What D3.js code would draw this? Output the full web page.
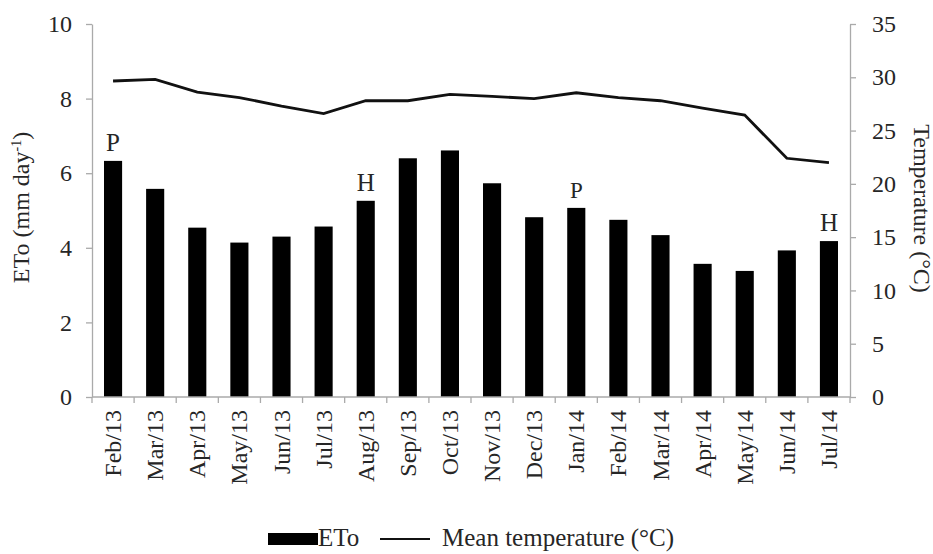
<!DOCTYPE html>
<html>
<head>
<meta charset="utf-8">
<script src="https://cdn.jsdelivr.net/npm/d3@7"></script>
<style>
  body { margin: 0; background: #fff; }
  svg { display: block; }
  text { font-family: "Liberation Serif", "Times New Roman", serif; fill: #262626; }
</style>
</head>
<body>
<svg id="chart" width="933" height="554"></svg>
<script>
const months = ["Feb/13", "Mar/13", "Apr/13", "May/13", "Jun/13", "Jul/13", "Aug/13", "Sep/13", "Oct/13",
  "Nov/13", "Dec/13", "Jan/14", "Feb/14", "Mar/14", "Apr/14", "May/14", "Jun/14", "Jul/14"];
const eto = [6.33, 5.58, 4.54, 4.14, 4.30, 4.57, 5.26, 6.40, 6.61, 5.73, 4.82, 5.07, 4.75, 4.34, 3.57, 3.38, 3.93, 4.18];
const temp = [29.65, 29.8, 28.6, 28.1, 27.3, 26.6, 27.8, 27.8, 28.4, 28.2, 28.0, 28.55, 28.1, 27.8, 27.1, 26.45, 22.4, 22.0];
// P = planting, H = harvest markers
const marks = [
  { month: "Feb/13", text: "P", size: 25 },
  { month: "Aug/13", text: "H", size: 25 },
  { month: "Jan/14", text: "P", size: 23 },
  { month: "Jul/14", text: "H", size: 25 }
];
const leftTicks = [0, 2, 4, 6, 8, 10];
const rightTicks = [0, 5, 10, 15, 20, 25, 30, 35];

const svg = d3.select('#chart');
const margin = { top: 24, right: 83, bottom: 157, left: 92 };
const width = +svg.attr('width');
const height = +svg.attr('height');
const innerWidth = width - margin.left - margin.right;
const innerHeight = height - margin.top - margin.bottom;

const g = svg.append('g')
  .attr('transform', `translate(${margin.left},${margin.top})`);

const x = d3.scaleBand()
  .domain(months)
  .range([0, innerWidth])
  .paddingInner(0.57)
  .paddingOuter(0.285);

const xBand = d3.scaleBand().domain(months).range([0, innerWidth]);

const yLeft = d3.scaleLinear().domain([0, 10]).range([innerHeight, 0]);
const yRight = d3.scaleLinear().domain([0, 35]).range([innerHeight, 0]);

// bars
g.append('g')
  .selectAll('rect')
  .data(eto)
  .join('rect')
  .attr('x', (d, i) => x(months[i]))
  .attr('y', d => yLeft(d))
  .attr('width', x.bandwidth())
  .attr('height', d => yLeft(0) - yLeft(d))
  .attr('fill', '#000');

// temperature line
const line = d3.line()
  .x((d, i) => xBand(months[i]) + xBand.bandwidth() / 2)
  .y(d => yRight(d));

g.append('path')
  .datum(temp)
  .attr('d', line)
  .attr('fill', 'none')
  .attr('stroke', '#111')
  .attr('stroke-width', 2.8);

// P / H labels
g.append('g')
  .selectAll('text')
  .data(marks)
  .join('text')
  .attr('x', d => xBand(d.month) + xBand.bandwidth() / 2)
  .attr('y', d => yLeft(eto[months.indexOf(d.month)]) - 10)
  .attr('text-anchor', 'middle')
  .style('font-size', d => d.size + 'px')
  .text(d => d.text);

function styleAxis(sel) {
  sel.attr('font-family', null).attr('font-size', null);
  sel.select('.domain').attr('stroke', '#aaa').attr('stroke-width', 1.3);
  sel.selectAll('.tick line').attr('stroke', '#aaa').attr('stroke-width', 1.3);
  sel.selectAll('text').attr('fill', null).style('font-size', '24px');
}

// left axis
g.append('g')
  .call(d3.axisLeft(yLeft).tickValues(leftTicks).tickSize(6).tickSizeOuter(0).tickPadding(14))
  .call(styleAxis);

// right axis
g.append('g')
  .attr('transform', `translate(${innerWidth},0)`)
  .call(d3.axisRight(yRight).tickValues(rightTicks).tickSize(6).tickSizeOuter(0).tickPadding(16))
  .call(styleAxis);

// bottom axis, ticks at band boundaries
const bottom = g.append('g')
  .attr('transform', `translate(0,${innerHeight})`);
bottom.append('line')
  .attr('x1', 0).attr('x2', innerWidth)
  .attr('stroke', '#aaa').attr('stroke-width', 1.3);
bottom.selectAll('.bt')
  .data(months.concat(['end']))
  .join('line')
  .attr('x1', (d, i) => i * xBand.step())
  .attr('x2', (d, i) => i * xBand.step())
  .attr('y1', 0).attr('y2', 6)
  .attr('stroke', '#aaa').attr('stroke-width', 1.3);
bottom.selectAll('.lbl')
  .data(months)
  .join('text')
  .attr('transform', d => `translate(${xBand(d) + xBand.bandwidth() / 2 + 8},13) rotate(-90)`)
  .attr('text-anchor', 'end')
  .style('font-size', '24px')
  .text(d => d);

// axis titles
svg.append('text')
  .attr('transform', `translate(29,${margin.top + innerHeight / 2 - 3}) rotate(-90)`)
  .attr('text-anchor', 'middle')
  .style('font-size', '24px')
  .html('ETo (mm day<tspan dy="-8" font-size="14px">-1</tspan><tspan dy="8">)</tspan>');

svg.append('text')
  .attr('transform', `translate(914,${margin.top + innerHeight / 2 - 2}) rotate(90)`)
  .attr('text-anchor', 'middle')
  .style('font-size', '24px')
  .text('Temperature (°C)');

// legend
const legend = svg.append('g').attr('transform', 'translate(268,539)');
legend.append('rect')
  .attr('x', 0).attr('y', -6).attr('width', 50).attr('height', 12)
  .attr('fill', '#000');
legend.append('text')
  .attr('x', 50).attr('y', 7)
  .style('font-size', '25px')
  .text('ETo');
legend.append('line')
  .attr('x1', 112).attr('x2', 162)
  .attr('stroke', '#111').attr('stroke-width', 2);
legend.append('text')
  .attr('x', 174).attr('y', 7)
  .style('font-size', '25px')
  .text('Mean temperature (°C)');
</script>
</body>
</html>
